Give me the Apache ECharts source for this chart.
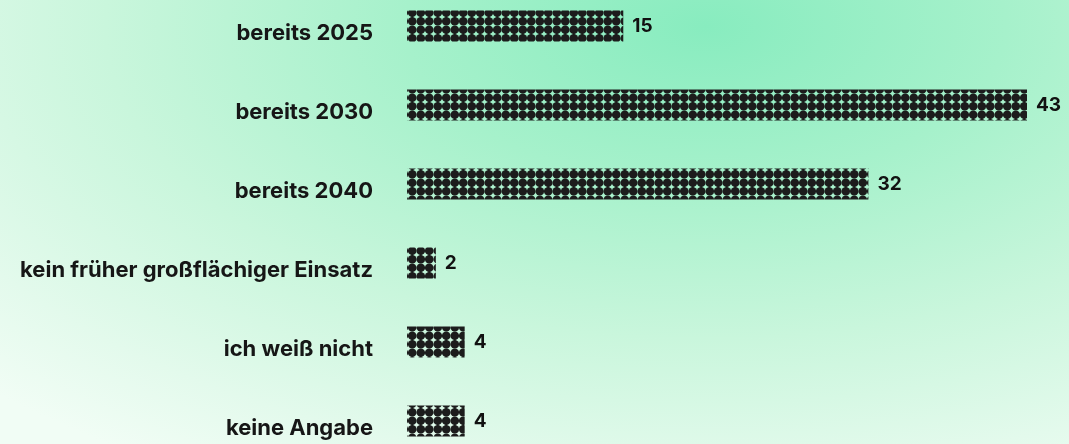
<!DOCTYPE html>
<html>
<head>
<meta charset="utf-8">
<script src="https://cdn.jsdelivr.net/npm/echarts@6/dist/echarts.min.js"></script>
<style>
  html, body { margin: 0; padding: 0; }
  #chart {
    width: 1069px;
    height: 444px;
    /* heller Verlauf, oben rechts am kräftigsten */
    background: radial-gradient(1000px 520px at 66% 6%,
      #88ecbf 0%, #a6f1cb 30%, #c9f6dc 60%, #e3faec 85%, #f1fdf5 100%);
  }
</style>
</head>
<body>
<div id="chart"></div>
<script>
// Kategorien von oben nach unten
const categories = [
  'bereits 2025',
  'bereits 2030',
  'bereits 2040',
  'kein früher großflächiger Einsatz',
  'ich weiß nicht',
  'keine Angabe',
];
const values = [15, 43, 32, 2, 4, 4];

// Punktmuster für die Balken (schwarze Kreise, transparente Lücken)
function makeDotPattern() {
  const step = 8.5;
  const c = document.createElement('canvas');
  c.width = 17;
  c.height = 17;
  const ctx = c.getContext('2d');
  ctx.fillStyle = '#1c1c1c';
  for (let i = 0; i < 2; i++) {
    for (let j = 0; j < 2; j++) {
      ctx.beginPath();
      ctx.arc(step / 2 + i * step, step / 2 + j * step, 4.3, 0, Math.PI * 2);
      ctx.fill();
    }
  }
  return c;
}

const myChart = echarts.init(document.getElementById('chart'));
myChart.setOption({
  backgroundColor: 'transparent',
  animation: false,
  grid: {
    left: 407,
    right: 42,
    top: 26,
    bottom: 23,
  },
  xAxis: {
    type: 'value',
    min: 0,
    max: 43,
    show: false,
  },
  yAxis: {
    type: 'category',
    data: categories,
    inverse: true,
    boundaryGap: false,
    axisLine: { show: false },
    axisTick: { show: false },
    splitLine: { show: false },
    axisLabel: {
      margin: 34,
      color: '#161616',
      fontFamily: 'Inter',
      fontWeight: 700,
      fontSize: 22,
      verticalAlign: 'top',
      lineHeight: 15,
    },
  },
  series: [
    {
      type: 'bar',
      data: values,
      barWidth: 31,
      itemStyle: {
        color: { image: makeDotPattern(), repeat: 'repeat' },
      },
      label: {
        show: true,
        position: 'right',
        distance: 9,
        color: '#111111',
        fontFamily: 'Inter',
        fontWeight: 700,
        fontSize: 19,
      },
    },
  ],
});
window.addEventListener('resize', () => myChart.resize());
</script>
</body>
</html>
